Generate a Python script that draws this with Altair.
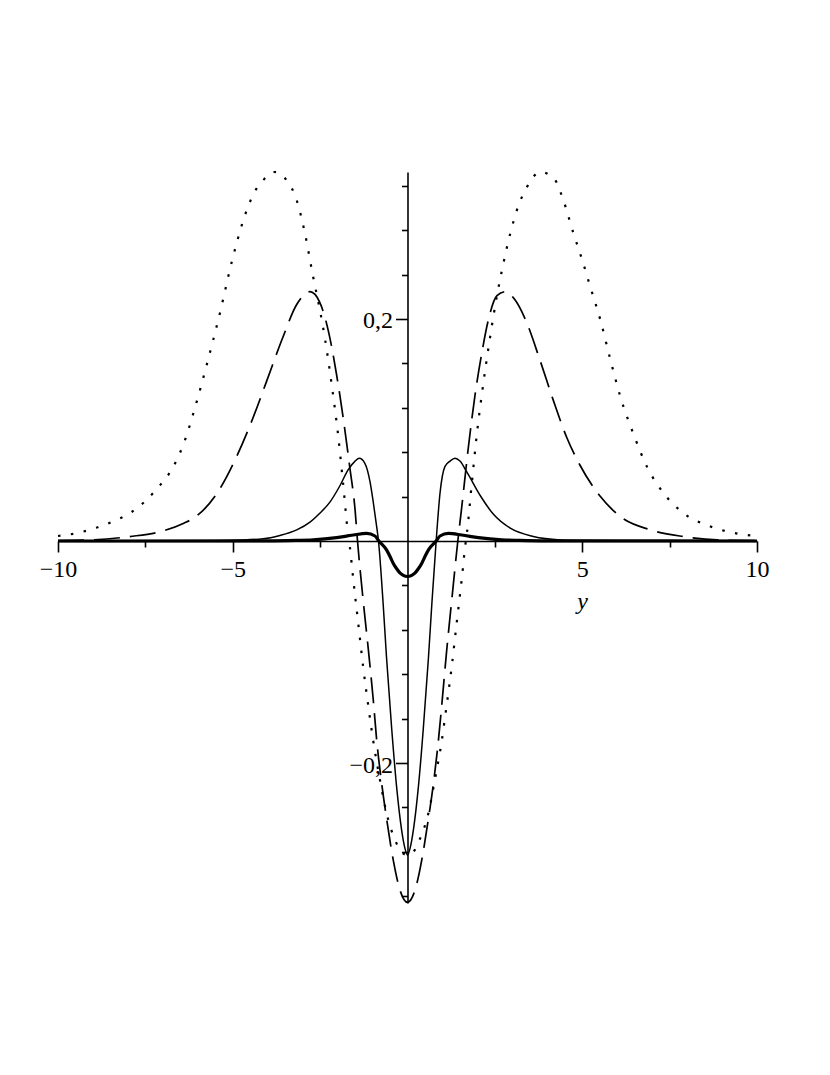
import altair as alt
import pandas as pd

# ---- curve readings (x, y) ----
dot_x = [-10.0, -9.4, -8.9, -8.4, -7.95, -7.5, -7.2, -6.7, -6.4, -6.1, -5.75, -5.37, -5.0, -4.6, -4.4,
         -4.13, -3.8, -3.46, -3.17, -2.94, -2.7, -2.5, -2.36, -2.17, -1.98, -1.84, -1.7, -1.65, -1.55,
         -1.41, -1.27, -1.12, -0.98, -0.79, -0.6, -0.36, -0.17, 0.0,
         0.17, 0.36, 0.6, 0.79, 0.98, 1.12, 1.27, 1.41, 1.55, 1.65, 1.7, 1.84, 1.98, 2.17, 2.36, 2.56,
         2.75, 2.94, 3.13, 3.42, 3.8, 4.18, 4.46, 4.75, 5.0, 5.23, 5.52, 5.8, 6.09, 6.47, 6.85, 7.33,
         7.9, 8.67, 9.3, 10.0]
dot_y = [0.0045, 0.0075, 0.012, 0.018, 0.025, 0.036, 0.046, 0.067, 0.088, 0.118, 0.158, 0.205, 0.255,
         0.298, 0.313, 0.325, 0.3324, 0.325, 0.307, 0.278, 0.238, 0.207, 0.182, 0.141, 0.094, 0.051,
         0.006, -0.005, -0.035, -0.074, -0.113, -0.149, -0.18, -0.215, -0.245, -0.269, -0.28, -0.283,
         -0.28, -0.268, -0.245, -0.214, -0.18, -0.148, -0.112, -0.073, -0.035, -0.005, 0.007, 0.052,
         0.095, 0.142, 0.183, 0.221, 0.251, 0.277, 0.298, 0.319, 0.3324, 0.327, 0.307, 0.277, 0.253,
         0.229, 0.199, 0.164, 0.13, 0.096, 0.067, 0.043, 0.025, 0.013, 0.0075, 0.0045]

dash_x = [-10.0, -9.0, -7.95, -7.0, -6.4, -6.1, -5.47, -4.89, -4.42, -4.03, -3.56, -3.17, -2.79, -2.51,
          -2.27, -2.03, -1.84, -1.65, -1.5, -1.43, -1.27, -1.12, -0.98, -0.88, -0.74, -0.58, -0.41,
          -0.21, 0.0, 0.21, 0.41, 0.58, 0.74, 0.88, 0.98, 1.12, 1.27, 1.44, 1.55, 1.74, 1.93, 2.13,
          2.32, 2.56, 2.8, 3.08, 3.42, 3.8, 4.18, 4.56, 4.94, 5.52, 6.09, 6.95, 7.9, 8.86, 10.0]
dash_y = [0.0003, 0.001, 0.004, 0.009, 0.016, 0.021, 0.042, 0.076, 0.111, 0.144, 0.184, 0.213, 0.2246,
          0.215, 0.19, 0.15, 0.111, 0.066, 0.028, 0.0, -0.053, -0.098, -0.143, -0.18, -0.218, -0.254,
          -0.287, -0.315, -0.3255, -0.315, -0.287, -0.254, -0.219, -0.181, -0.148, -0.099, -0.052,
          0.0, 0.03, 0.084, 0.131, 0.17, 0.2, 0.221, 0.2246, 0.217, 0.196, 0.162, 0.126, 0.093, 0.068,
          0.04, 0.022, 0.01, 0.004, 0.001, 0.0003]

thin_x = [-10.0, -6.0, -5.09, -4.13, -3.65, -3.17, -2.79, -2.51, -2.22, -1.93, -1.7, -1.5, -1.38, -1.22,
          -1.07, -0.98, -0.9, -0.83, -0.7, -0.6, -0.45, -0.31, -0.17, -0.08, 0.0, 0.08, 0.17, 0.31,
          0.45, 0.6, 0.7, 0.82, 0.93, 1.07, 1.22, 1.36, 1.5, 1.7, 2.08, 2.46, 2.94, 3.6, 4.37, 5.2,
          6.0, 10.0]
thin_y = [0.0, 0.0002, 0.0005, 0.002, 0.005, 0.01, 0.017, 0.025, 0.035, 0.05, 0.064, 0.072, 0.0745, 0.07,
          0.053, 0.035, 0.017, 0.0, -0.055, -0.105, -0.17, -0.222, -0.26, -0.276, -0.283, -0.276,
          -0.26, -0.222, -0.17, -0.105, -0.055, 0.0, 0.043, 0.067, 0.072, 0.0745, 0.072, 0.062, 0.041,
          0.024, 0.0115, 0.004, 0.001, 0.0004, 0.0002, 0.0]

thick_x = [-10.0, -4.0, -3.2, -2.7, -2.03, -1.55, -1.17, -0.93, -0.82, -0.6, -0.5, -0.41, -0.31, -0.21,
           -0.12, 0.0, 0.12, 0.21, 0.31, 0.41, 0.5, 0.6, 0.82, 0.93, 1.17, 1.55, 2.03, 2.7, 3.2, 4.0, 10.0]
thick_y = [0.0, 0.0001, 0.0005, 0.001, 0.003, 0.0054, 0.0068, 0.0045, 0.0, -0.008, -0.014, -0.02,
           -0.025, -0.029, -0.031, -0.032, -0.031, -0.029, -0.025, -0.02, -0.014, -0.008, 0.0, 0.0045,
           0.0068, 0.0054, 0.003, 0.001, 0.0005, 0.0001, 0.0]

series_names = ["dotted", "dashed", "thin", "thick"]

# ticks
x_ticks = [-10, -7.5, -5, -2.5, 2.5, 5, 7.5, 10]
y_ticks = [-0.32, -0.28, -0.24, -0.2, -0.16, -0.12, -0.08, -0.04,
           0.04, 0.08, 0.12, 0.16, 0.2, 0.24, 0.28, 0.32]

# ---- table ----
frames = []
for name, xs, ys in zip(series_names, [dot_x, dash_x, thin_x, thick_x], [dot_y, dash_y, thin_y, thick_y]):
    frames.append(pd.DataFrame({"x": xs, "y": ys, "series": name}))
df = pd.concat(frames, ignore_index=True)

W, H = 699, 731
y_dom = [-0.3261, 0.3324]
zero_from_bottom = H * (0 - y_dom[0]) / (y_dom[1] - y_dom[0])

FONT = "Liberation Serif"
FS = 24

x_axis = alt.Axis(
    values=x_ticks,
    offset=-zero_from_bottom,
    grid=False,
    domainColor="black", domainWidth=1.6,
    tickColor="black", tickWidth=1.6,
    tickSize={"condition": {"test": "abs(datum.value) % 5 == 0", "value": 11}, "value": 6},
    labelExpr="abs(datum.value) % 5 == 0 ? replace(toString(datum.value), '-', '\u2212') : ''",
    labelFont=FONT, labelFontSize=FS, labelColor="black",
    labelBaseline="alphabetic", labelPadding=25,
    labelFlush=False, labelOverlap=False,
    title="y", titleFont=FONT, titleFontSize=FS, titleFontStyle="italic",
    titleFontWeight="normal", titleColor="black",
    titleX=524, titleY=68, titleAlign="center", titleBaseline="alphabetic",
)

y_axis = alt.Axis(
    values=y_ticks,
    offset=-W / 2,
    grid=False,
    domainColor="black", domainWidth=1.6,
    tickColor="black", tickWidth=1.6,
    tickSize={"condition": {"test": "abs(abs(datum.value) - 0.2) < 0.001", "value": 12}, "value": 6},
    labelExpr="abs(datum.value - 0.2) < 0.001 ? '0,2' : (abs(datum.value + 0.2) < 0.001 ? '\u22120,2' : '')",
    labelFont=FONT, labelFontSize=FS, labelColor="black",
    labelPadding=3, labelOffset=2, labelOverlap=False,
    title=None,
)

base = alt.Chart(df).encode(
    x=alt.X("x:Q", scale=alt.Scale(domain=[-10, 10], nice=False, zero=False), axis=x_axis),
    y=alt.Y("y:Q", scale=alt.Scale(domain=y_dom, nice=False, zero=False), axis=y_axis),
)

styles = {
    "dotted": dict(strokeDash=[2.5, 10.5], strokeWidth=2.2),
    "dashed": dict(strokeDash=[26, 10], strokeWidth=1.7),
    "thin": dict(strokeWidth=1.5),
    "thick": dict(strokeWidth=3.2),
}

layers = [
    base.transform_filter(alt.datum.series == name).mark_line(
        interpolate="monotone", color="black", **styles[name]
    )
    for name in series_names
]

chart = alt.layer(*layers).properties(
    width=W, height=H,
    autosize=alt.AutoSizeParams(type="none"),
    padding={"left": 50, "top": 164, "right": 50, "bottom": 150},
).configure_view(stroke=None)

chart.save("out.html", embed_options={"renderer": "svg", "actions": False})
